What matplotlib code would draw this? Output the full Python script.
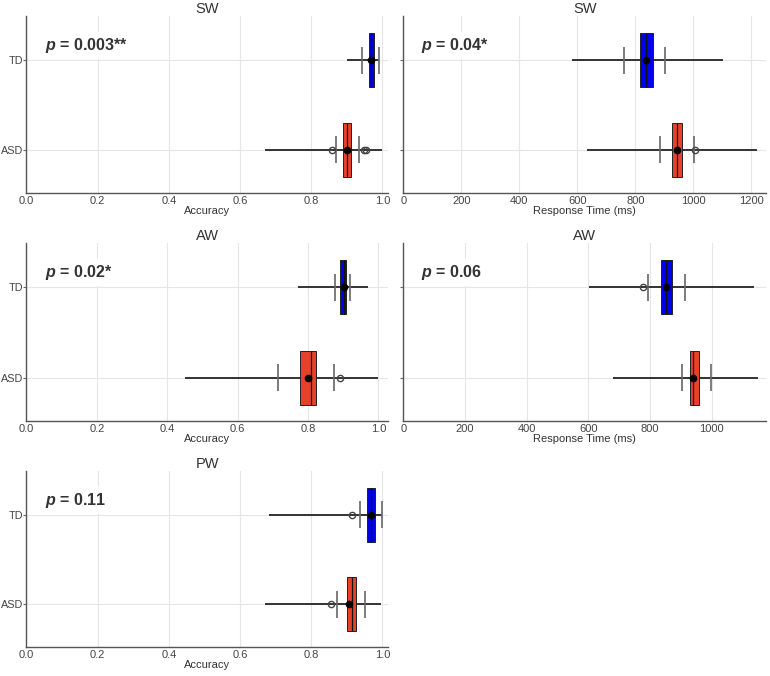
import matplotlib
matplotlib.use("Agg")
import matplotlib.pyplot as plt

categories = ['ASD', 'TD']
box_colors = ['#e8402a', '#0000ee']

# ---- SW accuracy ----
sw_acc_box = [[0.889, 0.901, 0.912], [0.962, 0.969, 0.977]]   # q1, median, q3
sw_acc_mean = [0.899, 0.969]
sw_acc_range = [[0.670, 0.999], [0.899, 0.991]]
sw_acc_ticks = [[0.868, 0.934], [0.943, 0.989]]
sw_acc_out = [[0.857, 0.948, 0.953], []]
sw_acc_p = '0.003**'

# ---- SW response time ----
sw_rt_box = [[928, 945, 960], [816, 838, 861]]
sw_rt_mean = [945, 838]
sw_rt_range = [[632, 1219], [581, 1103]]
sw_rt_ticks = [[884, 1002], [761, 904]]
sw_rt_out = [[1005], []]
sw_rt_p = '0.04*'

# ---- AW accuracy ----
aw_acc_box = [[0.778, 0.808, 0.823], [0.892, 0.901, 0.909]]
aw_acc_mean = [0.800, 0.901]
aw_acc_range = [[0.451, 1.000], [0.773, 0.970]]
aw_acc_ticks = [[0.714, 0.873], [0.878, 0.920]]
aw_acc_out = [[0.890], []]
aw_acc_p = '0.02*'

# ---- AW response time ----
aw_rt_box = [[930, 938, 959], [834, 851, 871]]
aw_rt_mean = [938, 851]
aw_rt_range = [[681, 1148], [602, 1136]]
aw_rt_ticks = [[903, 996], [794, 914]]
aw_rt_out = [[], [777]]
aw_rt_p = '0.06'

# ---- PW accuracy ----
pw_acc_box = [[0.899, 0.914, 0.925], [0.956, 0.968, 0.980]]
pw_acc_mean = [0.906, 0.968]
pw_acc_range = [[0.670, 0.997], [0.681, 0.999]]
pw_acc_ticks = [[0.871, 0.950], [0.938, 0.999]]
pw_acc_out = [[0.855], [0.913]]
pw_acc_p = '0.11'

titles = ['SW', 'SW', 'AW', 'AW', 'PW']
xlabels = ['Accuracy', 'Response Time (ms)', 'Accuracy', 'Response Time (ms)', 'Accuracy']

plt.rcParams['font.family'] = ['Liberation Sans', 'DejaVu Sans']
plt.rcParams['mathtext.fontset'] = 'custom'
plt.rcParams['mathtext.bfit'] = 'Liberation Sans:italic:bold'
plt.rcParams['mathtext.rm'] = 'Liberation Sans'
plt.rcParams['text.color'] = '#333333'
plt.rcParams['axes.labelcolor'] = '#333333'
plt.rcParams['xtick.color'] = '#444444'
plt.rcParams['ytick.color'] = '#444444'

fig = plt.figure(figsize=(7.7, 6.76), dpi=100)
W, H = 770, 676


def add_ax(x0, y0, x1, y1):
    return fig.add_axes([x0 / W, 1 - y1 / H, (x1 - x0) / W, (y1 - y0) / H])


axes = [
    add_ax(26.5, 16, 388, 193),
    add_ax(403.3, 16, 766, 193),
    add_ax(26.5, 243, 388, 421),
    add_ax(403.3, 243, 766, 421),
    add_ax(26.5, 471, 388, 647),
]

panels = [
    (sw_acc_box, sw_acc_mean, sw_acc_range, sw_acc_ticks, sw_acc_out, sw_acc_p),
    (sw_rt_box, sw_rt_mean, sw_rt_range, sw_rt_ticks, sw_rt_out, sw_rt_p),
    (aw_acc_box, aw_acc_mean, aw_acc_range, aw_acc_ticks, aw_acc_out, aw_acc_p),
    (aw_rt_box, aw_rt_mean, aw_rt_range, aw_rt_ticks, aw_rt_out, aw_rt_p),
    (pw_acc_box, pw_acc_mean, pw_acc_range, pw_acc_ticks, pw_acc_out, pw_acc_p),
]

for i, (ax, (box, mean, rng, tks, outs, p)) in enumerate(zip(axes, panels)):
    ypos = list(range(len(categories)))
    for j, y in enumerate(ypos):
        ax.hlines(y, rng[j][0], rng[j][1], color='#333333', lw=1.4, zorder=2)
        ax.vlines(tks[j], y - 0.15, y + 0.15, color='#666666', lw=1.2, zorder=2)
        q1, med, q3 = box[j]
        ax.barh(y, q3 - q1, left=q1, height=0.6, color=box_colors[j],
                edgecolor='#222222', linewidth=0.7, zorder=3)
        ax.vlines(med, y - 0.3, y + 0.3, color='#111111', lw=0.9, zorder=4)
        if outs[j]:
            ax.plot(outs[j], [y] * len(outs[j]), 'o', ms=4.5, mfc='none',
                    mec='#444444', mew=1.0, zorder=5)
        ax.plot([mean[j]], [y], 'o', ms=4.5, color='black', zorder=6)
    ax.set_ylim(-0.48, 1.49)
    ax.set_xlim(left=0)
    ax.set_yticks(ypos)
    if i % 2 == 0:
        ax.set_yticklabels(categories, fontsize=7.8)
    else:
        ax.set_yticklabels([])
    ax.tick_params(axis='x', length=0, labelsize=8, pad=2)
    ax.tick_params(axis='y', length=2, color='#666666', pad=0.3)
    ax.grid(True, color='#e6e6e6', lw=0.8, zorder=0)
    ax.set_axisbelow(True)
    for s in ['top', 'right']:
        ax.spines[s].set_visible(False)
    for s in ['left', 'bottom']:
        ax.spines[s].set_color('#555555')
        ax.spines[s].set_linewidth(1.0)
    ax.set_title(titles[i], fontsize=10.5, color='#333333', pad=2)
    ax.set_xlabel(xlabels[i], fontsize=8, labelpad=0.5)
    ax.text(0.05, 0.835, r'$\mathbfit{p}$ = ' + p, transform=ax.transAxes,
            fontsize=11.5, fontweight='bold', color='#333333', va='center',
            ha='left', zorder=7,
            bbox=dict(facecolor='white', edgecolor='none', pad=3))

fig.savefig('out.png', dpi=100)
